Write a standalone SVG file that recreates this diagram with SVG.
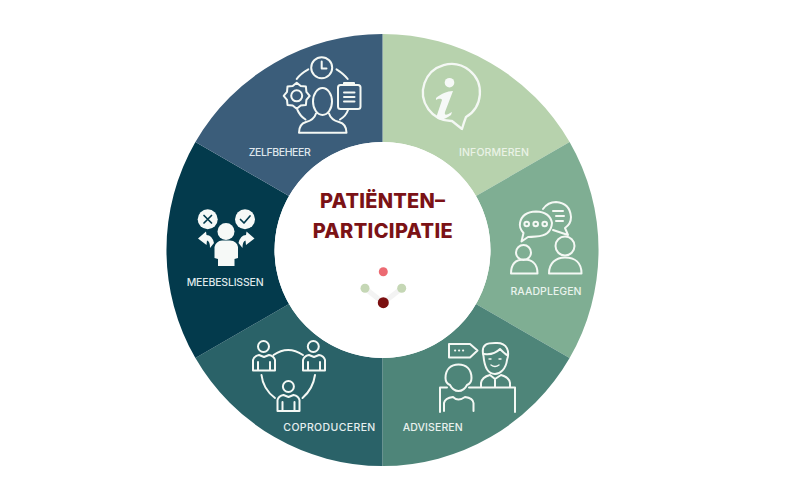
<svg xmlns="http://www.w3.org/2000/svg" width="800" height="500" viewBox="0 0 800 500">
<style>
.lb{font-family:"Inter","Liberation Sans",sans-serif;font-size:10.5px;font-weight:500}
.ti{font-family:"Inter","Liberation Sans",sans-serif;font-size:20px;font-weight:800;fill:#7b1216}
.ic{fill:none;stroke:#f4f8f4;stroke-width:2;stroke-linecap:round;stroke-linejoin:round}
.fl{fill:#f6f9f7;stroke:none}
</style>
<rect width="800" height="500" fill="#fff"/>
<g id="informeren">
<path d="M382.500 34A216 216 0 0 1 569.600 142L476 196A108 108 0 0 0 382.500 142Z" fill="#b7d2ad"/>
<path class="ic" style="stroke-width:2.300" d="M452 121A28.500 28.500 0 1 1 466 117Q464 122 462 129Z"/>
<circle class="fl" cx="449.500" cy="82.700" r="4.800"/>
<path class="fl" d="M436 98C441 94 447 91 453 91L445 112C444 116 447 115 452 112L451 115C445 120 436 122 437 115L442 100C441 98 438 99 436 100Z"/>
<text class="lb" x="459" y="156" fill="#eaf2e6" textLength="70">INFORMEREN</text>
</g>
<g id="raadplegen">
<path d="M569.600 142A216 216 0 0 1 569.600 358L476 304A108 108 0 0 0 476 196Z" fill="#7fae93"/>
<path class="ic" d="M543 209Q548 202 556 202Q570 203 571 217Q571 224 565 228L568 235L553 230"/>
<path class="ic" d="M528 237L521.500 241.500L523.500 233Q519 228 520 223Q522 212 536 211.500Q550 212 552 223Q551 236 536 236.500Q531 237 528 237Z"/>
<circle class="ic" cx="526.700" cy="224" r="2.300"/><circle class="ic" cx="535.700" cy="224" r="2.300"/><circle class="ic" cx="544.700" cy="224" r="2.300"/>
<path class="ic" d="M553 211H563M556 216H564M556 221H563"/>
<circle class="ic" cx="523.500" cy="252.500" r="7.500"/>
<path class="ic" d="M511 273.500C511 263 517 259.500 524 259.500C531 259.500 537.500 263 537.500 273.500Z"/>
<circle class="ic" cx="565" cy="246" r="9.500"/>
<path class="ic" d="M549 273.500C549 263 556 257.500 565 257.500C575 257.500 581.500 263 581.500 273.500Z"/>
<text class="lb" x="510.500" y="294.500" fill="#eaf3ed" textLength="71">RAADPLEGEN</text>
</g>
<g id="adviseren">
<path d="M569.600 358A216 216 0 0 1 382.500 466L382.500 358A108 108 0 0 0 476 304Z" fill="#4e8579"/>
<path class="ic" d="M449 344H470L477.500 350.500L470 357.500H449Z"/>
<path class="ic" stroke-dasharray="0.2 3.800" d="M455 350.500H466"/>
<path class="ic" d="M483.500 356C480 342 490 343 497 343C507 343 510 351 507 360C506 369 500 374 495 374C489 374 484.500 368 483.500 356Z"/>
<path class="ic" d="M484.500 354C492 355 497 352 500 349C503 352 505 354 507 355"/>
<path class="ic" style="stroke-width:1.400" d="M491 365Q495 368 499 365M489 359H491M499 359H501"/>
<path class="ic" d="M481 387V383Q482 377 490 375L495 379L501 375Q509 377 510 383V387M495 379V387"/>
<path class="ic" d="M445.500 378C445.500 369 451 364.500 458.500 364.500C466 364.500 471.500 369 471.500 378C471.500 381 469.500 384 467 385Q464 391 458.500 391Q453 391 450 385C447.500 384 445.500 381 445.500 378Z"/>
<path class="ic" d="M440 412V387.500H447M469 387.500H515V412M444 411V403Q445 398 453 397Q458 402 465 397Q473 398 473.500 403V411"/>
<text class="lb" x="402.700" y="430.500" fill="#e9f1ee" textLength="60">ADVISEREN</text>
</g>
<g id="coproduceren">
<path d="M382.500 466A216 216 0 0 1 195.400 358L289 304A108 108 0 0 0 382.500 358Z" fill="#2a6268"/>
<circle class="ic" cx="263.500" cy="346.500" r="5.500"/><circle class="ic" cx="313.300" cy="346.500" r="5.500"/><circle class="ic" cx="288.400" cy="386.500" r="5.500"/>
<path class="ic" d="M253 370.500V360Q254 356 259 355L264 357L269 355Q274 356 275 360V370.500ZM258 370.500V362M270 370.500V362"/>
<path class="ic" d="M303 370.500V360Q304 356 309 355L314 357L319 355Q324 356 325 360V370.500ZM308 370.500V362M320 370.500V362"/>
<path class="ic" d="M277.500 411V400Q278.500 396 283.500 395L288.500 397L293.500 395Q298.500 396 299.500 400V411ZM282.500 411V402M294.500 411V402"/>
<path class="ic" d="M273.500 355Q288 345 303 355M261.500 375Q263 389 275 398M315 375Q313 389 302.500 398"/>
<text class="lb" x="283.300" y="430.500" fill="#e6efef" textLength="92">COPRODUCEREN</text>
</g>
<g id="meebeslissen">
<path d="M195.400 358A216 216 0 0 1 195.400 142L289 196A108 108 0 0 0 289 304Z" fill="#033a4c"/>
<circle class="fl" cx="207.700" cy="219.300" r="10"/><circle class="fl" cx="245" cy="219.300" r="10"/>
<path d="M204 215.500L211.500 223M211.500 215.500L204 223" fill="none" stroke="#033a4c" stroke-width="1.700" stroke-linecap="round"/>
<path d="M240.500 219.500L244 223L250 216" fill="none" stroke="#033a4c" stroke-width="1.700" stroke-linecap="round" stroke-linejoin="round"/>
<circle class="fl" cx="226" cy="231.500" r="8.500"/>
<path class="fl" d="M214.500 258V247Q216 241 222 240.500H230Q237 241 238 247V258L234.500 259V266H218V259Z"/>
<path class="fl" d="M198 238.500L206 231.500L206.500 235Q212 235 214 243L210 248Q210 241 207 240.500L206.500 245Z"/>
<path class="fl" d="M254.500 238.500L246.500 231.500L246 235Q240.500 235 238.500 243L242.500 248Q242.500 241 245.500 240.500L246 245Z"/>
<text class="lb" x="186.700" y="286" fill="#dfe7ea" textLength="77">MEEBESLISSEN</text>
</g>
<g id="zelfbeheer">
<path d="M195.400 142A216 216 0 0 1 382.500 34L382.500 142A108 108 0 0 0 289 196Z" fill="#3b5d7a"/>
<circle class="ic" cx="321.700" cy="67.700" r="10.500"/>
<path class="ic" d="M321.700 61.500V68.500H326.500"/>
<path class="ic" d="M296.700 79Q300 74 308.300 69.300M336.500 69.300Q344 74 347.700 79M297.500 110Q300 116 305.500 119.500M348 110Q346 116 340 119.500"/>
<path class="ic" d="M309.700 95.800L306.400 99.800L305.900 105L300.700 105.500L296.700 108.800L292.700 105.500L287.500 105L287 99.800L283.700 95.800L287 91.800L287.500 86.600L292.700 86.100L296.700 82.800L300.700 86.100L305.900 86.600L306.400 91.800Z"/>
<circle class="ic" cx="296.700" cy="95.800" r="5.500"/>
<rect class="ic" x="338" y="85" width="22.500" height="24" rx="2.500"/>
<path class="ic" d="M344 85V83H354V85M344 92.500H354.500M344 97H354.500M344 101.500H354.500"/>
<ellipse class="ic" cx="322.500" cy="101.500" rx="9.500" ry="13.500"/>
<path class="ic" d="M299 132.700Q299 124 306 122Q314 120 316 113.500M346.500 132.700Q346.500 124 339 122Q331 120 329 113.500M299 132.700H346.500"/>
<text class="lb" x="248.700" y="156" fill="#dfe6ec" textLength="62">ZELFBEHEER</text>
</g>
<g id="centre">
<circle cx="382.500" cy="250" r="108" fill="#fff"/>
<text class="ti" x="320" y="208.300" textLength="125">PATIËNTEN–</text>
<text class="ti" x="312.700" y="238.300" textLength="140">PARTICIPATIE</text>
<path d="M365 288.300L383.300 302.700L401.700 288.300" fill="none" stroke="#f3f3f3" stroke-width="5"/>
<circle cx="383.300" cy="271.700" r="4.500" fill="#ec6a72"/>
<circle cx="365" cy="288.300" r="4.500" fill="#c5d7b5"/>
<circle cx="401.700" cy="288.300" r="4.500" fill="#c5d7b5"/>
<circle cx="383.300" cy="302.700" r="5.500" fill="#7b0f10"/>
</g>
</svg>
